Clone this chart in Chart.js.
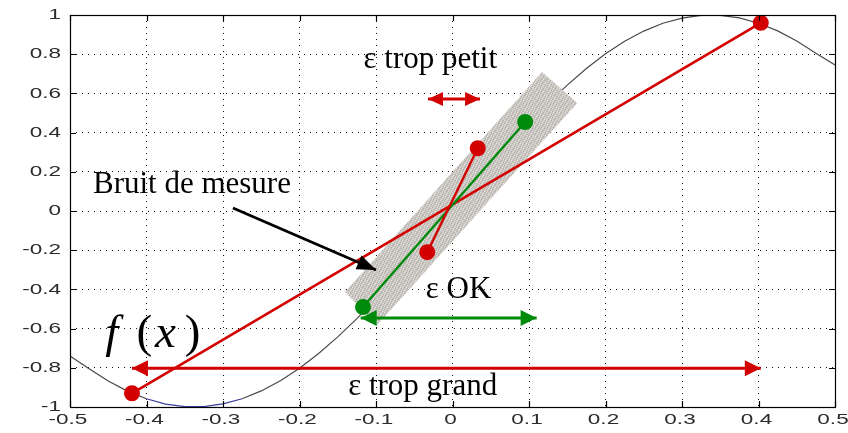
<!DOCTYPE html>
<html>
<head>
<meta charset="utf-8">
<script src="https://cdn.jsdelivr.net/npm/chart.js@4/dist/chart.umd.min.js"></script>
<style>
  html, body { margin: 0; padding: 0; background: #fff; }
  #wrap { width: 848px; height: 433px; }
</style>
</head>
<body>
<div id="wrap"><canvas id="c" width="848" height="433"></canvas></div>
<script>
// ---- data ----
const curveX = [-0.5,-0.475,-0.45,-0.425,-0.4,-0.375,-0.35,-0.325,-0.3,-0.275,-0.25,-0.225,-0.2,-0.175,-0.15,-0.125,-0.1,-0.075,-0.05,-0.025,0,
                0.025,0.05,0.075,0.1,0.125,0.15,0.175,0.2,0.225,0.25,0.275,0.3,0.325,0.35,0.375,0.4,0.425,0.45,0.475,0.5];
const curveY = [-0.74,-0.805,-0.867,-0.919,-0.958,-0.985,-0.998,-0.998,-0.984,-0.958,-0.918,-0.866,-0.802,-0.727,-0.642,-0.549,-0.448,-0.342,-0.23,-0.116,0,
                0.116,0.23,0.342,0.448,0.549,0.642,0.727,0.802,0.866,0.918,0.958,0.984,0.998,0.998,0.985,0.958,0.919,0.867,0.805,0.745];

const bandX = [-0.1405, 0.117, 0.163, -0.0987];
const bandY = [-0.413, 0.709, 0.551, -0.582];

const bigRedX = [-0.419, 0.403];
const bigRedY = [-0.93, 0.96];
const greenX = [-0.117, 0.095];
const greenY = [-0.49, 0.454];
const smallRedX = [-0.033, 0.033];
const smallRedY = [-0.21, 0.32];

const arrowPetitX = [-0.032, 0.036];
const arrowPetitY = [0.571, 0.571];
const arrowOkX = [-0.12, 0.11];
const arrowOkY = [-0.546, -0.546];
const arrowGrandX = [-0.419, 0.403];
const arrowGrandY = [-0.802, -0.802];
const arrowNoiseX = [-0.287, -0.100];
const arrowNoiseY = [0.015, -0.301];

const xTicks = [-0.5,-0.4,-0.3,-0.2,-0.1,0,0.1,0.2,0.3,0.4,0.5];
const xTickLabels = ['-0.5','-0.4','-0.3','-0.2','-0.1','0','0.1','0.2','0.3','0.4','0.5'];
const yTicks = [-1,-0.8,-0.6,-0.4,-0.2,0,0.2,0.4,0.6,0.8,1];
const yTickLabels = ['-1','-0.8','-0.6','-0.4','-0.2','0','0.2','0.4','0.6','0.8','1'];

const labelTexts = ['Bruit de mesure', 'ε trop petit', 'ε OK', 'ε trop grand'];
const labelX = [-0.470, -0.029, 0.008, -0.039];
const labelY = [0.092, 0.73, -0.444, -0.939];
const labelAlign = ['left', 'center', 'center', 'center'];
const fxGlyphs = ['f', '(', 'x', ')'];
const fxX = [-0.454, -0.413, -0.389, -0.350];
const fxY = -0.694;

// ---- helpers ----
const RED = '#d20000';
const GREEN = '#008a0c';
const pts = (xs, ys) => xs.map((x, i) => ({x: x, y: ys[i]}));

const canvas = document.getElementById('c');
const mainCtx = canvas.getContext('2d');
function makePattern() {
  const c = document.createElement('canvas');
  c.width = 6; c.height = 6;
  const g = c.getContext('2d');
  g.fillStyle = '#c9c5c0'; g.fillRect(0, 0, 6, 6);
  g.fillStyle = '#e6e3df';
  [[0,0],[3,1],[5,3],[1,4],[4,5],[2,2]].forEach(([x, y]) => g.fillRect(x, y, 1, 1));
  g.fillStyle = '#b3afa9';
  [[1,1],[4,2],[0,3],[3,4],[5,0],[2,5]].forEach(([x, y]) => g.fillRect(x, y, 1, 1));
  return mainCtx.createPattern(c, 'repeat');
}

function head(ctx, tx, ty, fx, fy, len, hw, color) {
  const a = Math.atan2(ty - fy, tx - fx);
  const bx = tx - Math.cos(a) * len, by = ty - Math.sin(a) * len;
  ctx.beginPath();
  ctx.moveTo(tx, ty);
  ctx.lineTo(bx + Math.sin(a) * hw, by - Math.cos(a) * hw);
  ctx.lineTo(bx - Math.sin(a) * hw, by + Math.cos(a) * hw);
  ctx.closePath();
  ctx.fillStyle = color;
  ctx.fill();
}

const whiteBg = {
  id: 'whiteBg',
  beforeDraw(chart) {
    const ctx = chart.ctx;
    ctx.save(); ctx.fillStyle = '#fff'; ctx.fillRect(0, 0, chart.width, chart.height); ctx.restore();
  }
};

const overlay = {
  id: 'overlay',
  afterDatasetsDraw(chart) {
    const ctx = chart.ctx, xs = chart.scales.x, ys = chart.scales.y;
    const X = v => xs.getPixelForValue(v), Y = v => ys.getPixelForValue(v);
    ctx.save();
    const dbl = [[arrowPetitX, arrowPetitY, RED, 15, 7], [arrowOkX, arrowOkY, GREEN, 16, 8], [arrowGrandX, arrowGrandY, RED, 16, 8]];
    dbl.forEach(([ax, ay, col, L, W]) => {
      head(ctx, X(ax[0]), Y(ay[0]), X(ax[1]), Y(ay[1]), L, W, col);
      head(ctx, X(ax[1]), Y(ay[1]), X(ax[0]), Y(ay[0]), L, W, col);
    });
    head(ctx, X(arrowNoiseX[1]), Y(arrowNoiseY[1]), X(arrowNoiseX[0]), Y(arrowNoiseY[0]), 19, 7.5, '#000');
    ctx.fillStyle = '#000';
    ctx.textBaseline = 'alphabetic';
    ctx.font = '31px "Liberation Serif", "Times New Roman", serif';
    labelTexts.forEach((t, i) => {
      ctx.textAlign = labelAlign[i];
      ctx.fillText(t, X(labelX[i]), Y(labelY[i]));
    });
    ctx.textAlign = 'left';
    fxGlyphs.forEach((g, i) => {
      ctx.font = (g === 'f' || g === 'x' ? 'italic ' : '') + '47px "Liberation Serif", "Times New Roman", serif';
      ctx.fillText(g, X(fxX[i]), Y(fxY));
    });
    ctx.restore();
  },
  afterDraw(chart) {
    const ctx = chart.ctx, xs = chart.scales.x, ys = chart.scales.y, a = chart.chartArea;
    ctx.save();
    ctx.strokeStyle = '#000'; ctx.lineWidth = 1.2;
    ctx.strokeRect(Math.round(a.left) + 0.5, Math.round(a.top) + 0.5, Math.round(a.right - a.left), Math.round(a.bottom - a.top));
    ctx.beginPath();
    xTicks.forEach(v => {
      const p = Math.round(xs.getPixelForValue(v)) + 0.5;
      ctx.moveTo(p, a.bottom); ctx.lineTo(p, a.bottom - 6);
      ctx.moveTo(p, a.top); ctx.lineTo(p, a.top + 6);
    });
    yTicks.forEach(v => {
      const p = Math.round(ys.getPixelForValue(v)) + 0.5;
      ctx.moveTo(a.left, p); ctx.lineTo(a.left + 6, p);
      ctx.moveTo(a.right, p); ctx.lineTo(a.right - 6, p);
    });
    ctx.stroke();
    ctx.fillStyle = '#2b2b2b';
    ctx.font = '15px "Liberation Sans", Arial, sans-serif';
    ctx.textBaseline = 'middle';
    ctx.textAlign = 'right';
    yTicks.forEach((v, i) => {
      ctx.save();
      ctx.translate(a.left - 9, ys.getPixelForValue(v));
      ctx.scale(1.5, 1);
      ctx.fillText(yTickLabels[i], 0, 0);
      ctx.restore();
    });
    ctx.textAlign = 'center';
    xTicks.forEach((v, i) => {
      ctx.save();
      ctx.translate(xs.getPixelForValue(v) - 2, a.bottom + 12.5);
      ctx.scale(1.5, 1);
      ctx.fillText(xTickLabels[i], 0, 0);
      ctx.restore();
    });
    ctx.restore();
  }
};

const lineDs = (data, color, width, order, extra) => Object.assign({
  data: data, borderColor: color, borderWidth: width, pointRadius: 0,
  fill: false, tension: 0, order: order
}, extra || {});

new Chart(canvas, {
  type: 'line',
  data: {
    datasets: [
      lineDs(pts(curveX, curveY), '#4a4a4a', 1.2, 10, {
        segment: { borderColor: c => (c.p0.parsed.y < -0.95 && c.p1.parsed.y < -0.95) ? '#3c3c9c' : undefined }
      }),
      lineDs(pts(bandX, bandY), 'rgba(0,0,0,0)', 0, 9, { fill: 'shape', backgroundColor: makePattern() }),
      lineDs(pts(bigRedX, bigRedY), RED, 2.6, 8, { pointRadius: 8, pointBackgroundColor: RED, pointBorderWidth: 0 }),
      lineDs(pts(greenX, greenY), GREEN, 2.4, 7, { pointRadius: 8, pointBackgroundColor: GREEN, pointBorderWidth: 0 }),
      lineDs(pts(smallRedX, smallRedY), RED, 2.4, 6, { pointRadius: 8, pointBackgroundColor: RED, pointBorderWidth: 0 }),
      lineDs(pts(arrowPetitX, arrowPetitY), RED, 3, 5),
      lineDs(pts(arrowOkX, arrowOkY), GREEN, 3, 5),
      lineDs(pts(arrowGrandX, arrowGrandY), RED, 3, 5),
      lineDs(pts(arrowNoiseX, arrowNoiseY), '#000', 2.8, 5)
    ]
  },
  options: {
    responsive: false,
    animation: false,
    events: [],
    layout: { padding: { left: 0, top: 15, right: 13, bottom: 0 } },
    plugins: { legend: { display: false }, tooltip: { enabled: false } },
    scales: {
      x: {
        type: 'linear', min: -0.5, max: 0.5,
        afterBuildTicks: s => { s.ticks = xTicks.map(v => ({ value: v })); },
        afterFit: s => { s.height = 26; },
        ticks: { display: false },
        grid: { color: '#111', lineWidth: 1, drawTicks: false },
        border: { display: false, dash: [1, 5] }
      },
      y: {
        type: 'linear', min: -1, max: 1,
        afterBuildTicks: s => { s.ticks = yTicks.map(v => ({ value: v })); },
        afterFit: s => { s.width = 70; },
        ticks: { display: false },
        grid: { color: '#111', lineWidth: 1, drawTicks: false },
        border: { display: false, dash: [1, 5] }
      }
    }
  },
  plugins: [whiteBg, overlay]
});
</script>
</body>
</html>
